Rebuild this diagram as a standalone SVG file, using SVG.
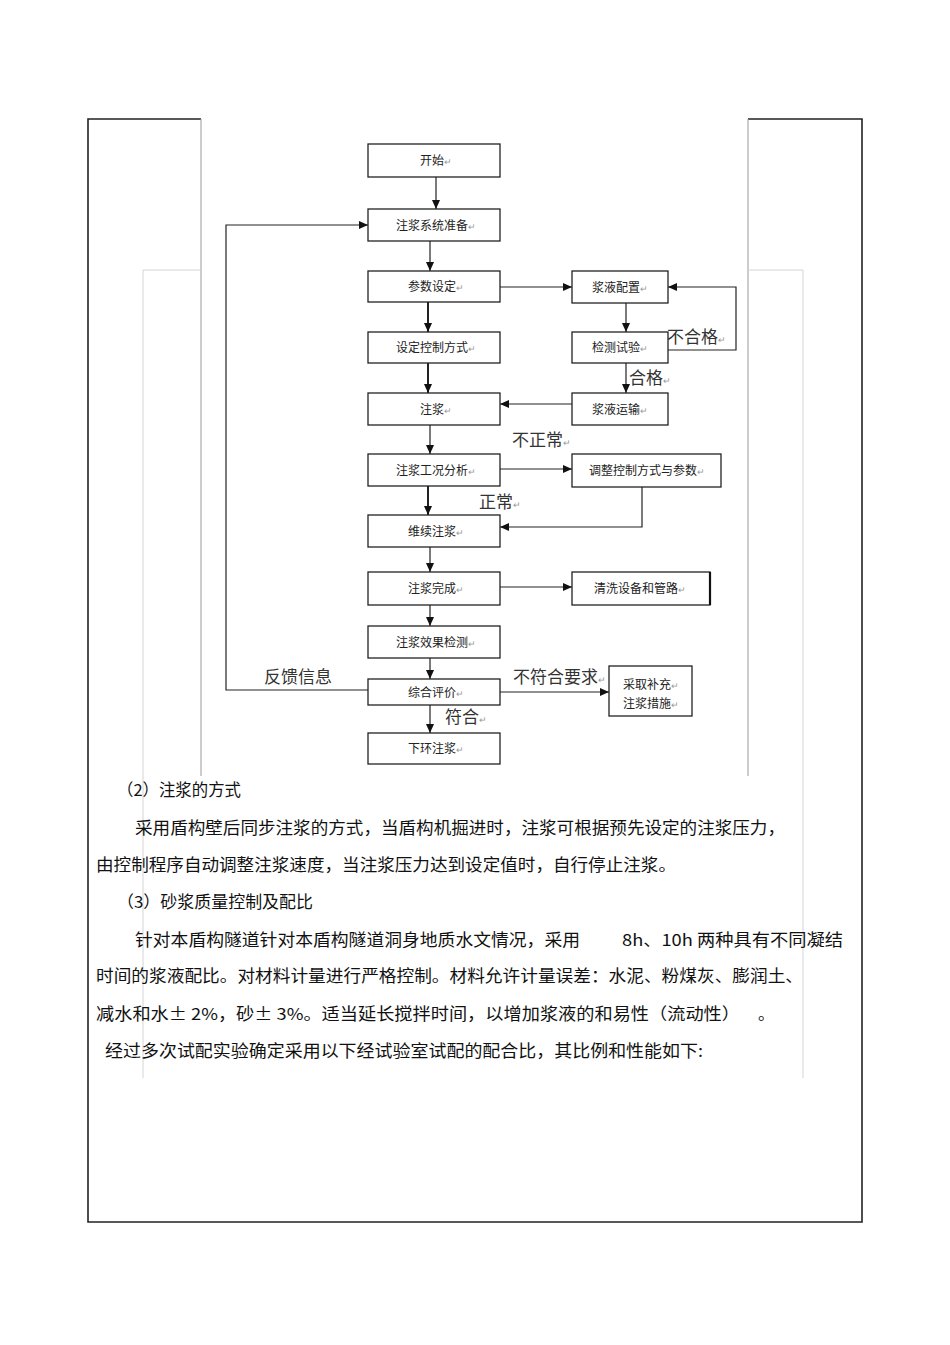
<svg xmlns="http://www.w3.org/2000/svg" width="950" height="1345" viewBox="0 0 950 1345">
<defs>
<marker id="ah" markerWidth="9" markerHeight="8" refX="9" refY="4" orient="auto" markerUnits="userSpaceOnUse"><path d="M0,0 L9,4 L0,8 z" fill="#111"/></marker>
<style>
.box{fill:#fff;stroke:#222;stroke-width:1.3}
.bt{font-family:"Noto Sans CJK SC","Noto Sans",sans-serif;font-size:12px;fill:#222;text-anchor:middle}
.lb{font-family:"Noto Sans CJK SC","Noto Sans",sans-serif;font-size:17px;fill:#333}
.r{font-size:9px;fill:#999}
.ln{fill:none;stroke:#222;stroke-width:1.2}
.lt{fill:none;stroke:#222;stroke-width:2}
.p{font-family:"Noto Sans CJK SC","Liberation Sans",sans-serif;font-size:16.5px;fill:#111}
.fr{fill:none;stroke:#222;stroke-width:1.6}
.g1{fill:none;stroke:#999;stroke-width:1}
.g2{fill:none;stroke:#d4d4d4;stroke-width:1}
</style>
</defs>
<rect width="950" height="1345" fill="#fff"/>
<g id="frame">
<path class="fr" d="M201,119 H88 V1222 H862 V119 H748"/>
<path class="g1" d="M201,119 V776 M748,119 V776"/>
<path class="g2" d="M143,1078 V270 H201 M803,1078 V270 H748"/>
</g>
<g id="connectors">
<path class="ln" d="M436,177 V209" marker-end="url(#ah)"/>
<path class="ln" d="M430,241 V271" marker-end="url(#ah)"/>
<path class="lt" d="M428,302 V332" marker-end="url(#ah)"/>
<path class="lt" d="M428,363 V393" marker-end="url(#ah)"/>
<path class="ln" d="M430,425 V454" marker-end="url(#ah)"/>
<path class="lt" d="M428,486 V515" marker-end="url(#ah)"/>
<path class="ln" d="M430,547 V572" marker-end="url(#ah)"/>
<path class="ln" d="M430,605 V626" marker-end="url(#ah)"/>
<path class="ln" d="M430,658 V679" marker-end="url(#ah)"/>
<path class="ln" d="M430,705 V733" marker-end="url(#ah)"/>
<path class="ln" d="M500,287 H572" marker-end="url(#ah)"/>
<path class="ln" d="M626,303 V332" marker-end="url(#ah)"/>
<path class="ln" d="M668,350 H736 V287 H668" marker-end="url(#ah)"/>
<path class="ln" d="M626,363 V393" marker-end="url(#ah)"/>
<path class="ln" d="M572,404 H500" marker-end="url(#ah)"/>
<path class="ln" d="M500,469 H572" marker-end="url(#ah)"/>
<path class="ln" d="M642,487 V527 H500" marker-end="url(#ah)"/>
<path class="ln" d="M500,587 H572" marker-end="url(#ah)"/>
<path class="ln" d="M500,692 H609" marker-end="url(#ah)"/>
<path class="ln" d="M368,690 H226 V225 H368" marker-end="url(#ah)"/>
<text class="lb" x="667" y="343">不合格<tspan class="r">↵</tspan></text>
<text class="lb" x="629" y="384">合格<tspan class="r">↵</tspan></text>
<text class="lb" x="512" y="446">不正常<tspan class="r">↵</tspan></text>
<text class="lb" x="479" y="508">正常<tspan class="r">↵</tspan></text>
<text class="lb" x="513" y="683">不符合要求<tspan class="r">↵</tspan></text>
<text class="lb" x="264" y="683">反馈信息</text>
<text class="lb" x="445" y="723">符合<tspan class="r">↵</tspan></text>
</g>
<g id="n_start"><rect class="box" x="368" y="144" width="132" height="33"/><text class="bt" x="436" y="165">开始<tspan class="r">↵</tspan></text></g>
<g id="n_prep"><rect class="box" x="368" y="209" width="132" height="32"/><text class="bt" x="436" y="229.5">注浆系统准备<tspan class="r">↵</tspan></text></g>
<g id="n_param"><rect class="box" x="368" y="271" width="132" height="31"/><text class="bt" x="436" y="291">参数设定<tspan class="r">↵</tspan></text></g>
<g id="n_ctrl"><rect class="box" x="368" y="332" width="132" height="31"/><text class="bt" x="436" y="352">设定控制方式<tspan class="r">↵</tspan></text></g>
<g id="n_grout"><rect class="box" x="368" y="393" width="132" height="32"/><text class="bt" x="436" y="413.5">注浆<tspan class="r">↵</tspan></text></g>
<g id="n_analysis"><rect class="box" x="368" y="454" width="132" height="32"/><text class="bt" x="436" y="474.5">注浆工况分析<tspan class="r">↵</tspan></text></g>
<g id="n_continue"><rect class="box" x="368" y="515" width="132" height="32"/><text class="bt" x="436" y="535.5">维续注浆<tspan class="r">↵</tspan></text></g>
<g id="n_done"><rect class="box" x="368" y="572" width="132" height="33"/><text class="bt" x="436" y="593">注浆完成<tspan class="r">↵</tspan></text></g>
<g id="n_check"><rect class="box" x="368" y="626" width="132" height="32"/><text class="bt" x="436" y="646.5">注浆效果检测<tspan class="r">↵</tspan></text></g>
<g id="n_eval"><rect class="box" x="368" y="679" width="132" height="26"/><text class="bt" x="436" y="696.5">综合评价<tspan class="r">↵</tspan></text></g>
<g id="n_next"><rect class="box" x="368" y="733" width="132" height="31"/><text class="bt" x="436" y="753">下环注浆<tspan class="r">↵</tspan></text></g>
<g id="n_mix"><rect class="box" x="572" y="271" width="96" height="32"/><text class="bt" x="620" y="291.5">浆液配置<tspan class="r">↵</tspan></text></g>
<g id="n_test"><rect class="box" x="572" y="332" width="96" height="31"/><text class="bt" x="620" y="352">检测试验<tspan class="r">↵</tspan></text></g>
<g id="n_trans"><rect class="box" x="572" y="393" width="96" height="32"/><text class="bt" x="620" y="413.5">浆液运输<tspan class="r">↵</tspan></text></g>
<g id="n_adjust"><rect class="box" x="572" y="454" width="149" height="33"/><text class="bt" x="647" y="475">调整控制方式与参数<tspan class="r">↵</tspan></text></g>
<g id="n_clean"><rect class="box" x="572" y="572" width="138" height="33"/><path d="M710,572 V605" stroke="#111" stroke-width="2.2"/><text class="bt" x="640" y="593">清洗设备和管路<tspan class="r">↵</tspan></text></g>
<g id="n_supp"><rect class="box" x="609" y="666" width="83" height="50"/><text class="bt" x="651" y="689">采取补充<tspan class="r">↵</tspan></text><text class="bt" x="651" y="708">注浆措施<tspan class="r">↵</tspan></text></g>
<g id="body">
<text class="p" x="117" y="796" textLength="124" lengthAdjust="spacingAndGlyphs">（2）注浆的方式</text>
<text class="p" x="135" y="834" textLength="650" lengthAdjust="spacingAndGlyphs">采用盾构壁后同步注浆的方式，当盾构机掘进时，注浆可根据预先设定的注浆压力，</text>
<text class="p" x="96" y="871" textLength="580" lengthAdjust="spacingAndGlyphs">由控制程序自动调整注浆速度，当注浆压力达到设定值时，自行停止注浆。</text>
<text class="p" x="117" y="908" textLength="196" lengthAdjust="spacingAndGlyphs">（3）砂浆质量控制及配比</text>
<text class="p" x="135" y="946" textLength="445" lengthAdjust="spacingAndGlyphs">针对本盾构隧道针对本盾构隧道洞身地质水文情况，采用</text>
<text class="p" x="622" y="946" textLength="221" lengthAdjust="spacingAndGlyphs">8h、10h 两种具有不同凝结</text>
<text class="p" x="96" y="982" textLength="707" lengthAdjust="spacingAndGlyphs">时间的浆液配比。对材料计量进行严格控制。材料允许计量误差：水泥、粉煤灰、膨润土、</text>
<text class="p" x="96" y="1020" textLength="644" lengthAdjust="spacingAndGlyphs">减水和水± 2%，砂± 3%。适当延长搅拌时间，以增加浆液的和易性（流动性）</text>
<text class="p" x="758" y="1020">。</text>
<text class="p" x="105" y="1057" textLength="598" lengthAdjust="spacingAndGlyphs">经过多次试配实验确定采用以下经试验室试配的配合比，其比例和性能如下:</text>
</g>
</svg>
